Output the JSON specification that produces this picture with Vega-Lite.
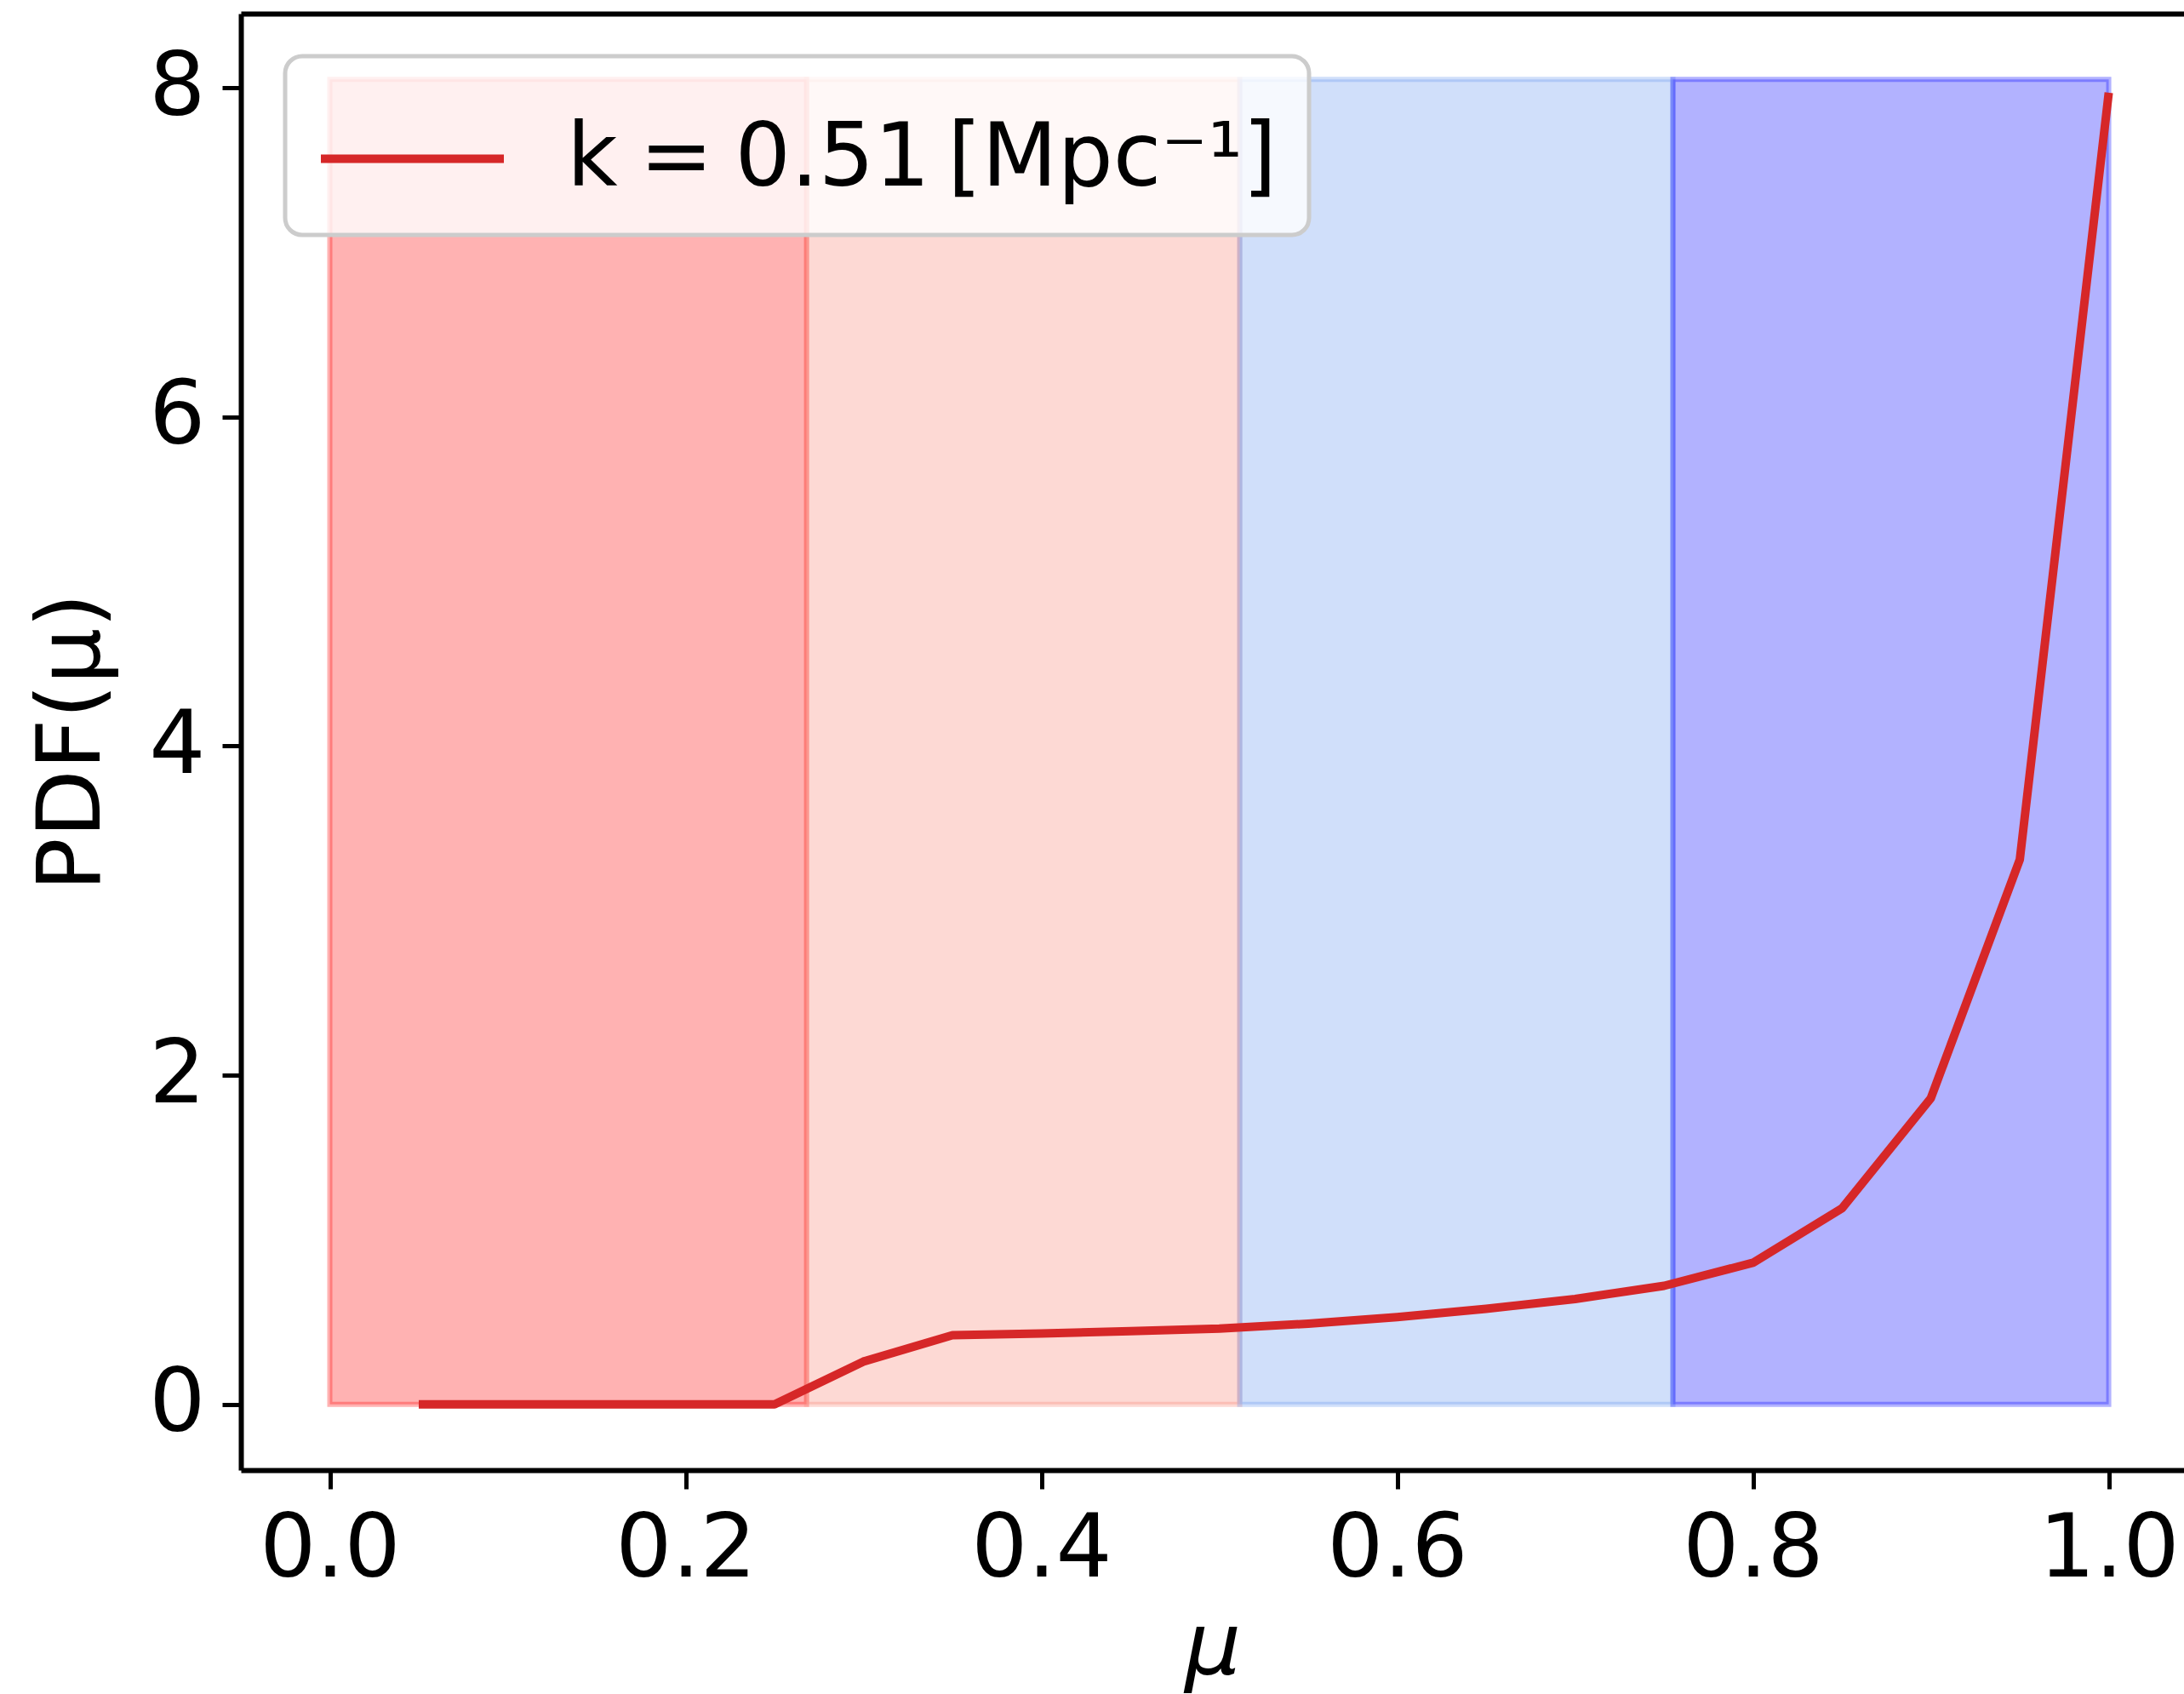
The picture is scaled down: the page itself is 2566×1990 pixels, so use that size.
{
  "$schema": "https://vega.github.io/schema/vega-lite/v6.json",
  "width": 2283,
  "height": 1711,
  "autosize": {"type": "none"},
  "padding": {"left": 283, "top": 16, "right": 0, "bottom": 263},
  "background": "white",
  "config": {
    "view": {"stroke": null},
    "font": "DejaVu Sans",
    "axis": {
      "domainColor": "black",
      "domainWidth": 6,
      "tickColor": "black",
      "tickWidth": 5,
      "tickSize": 22,
      "labelFont": "DejaVu Sans",
      "labelFontSize": 104,
      "labelColor": "black",
      "labelPadding": 20,
      "labelFlush": false,
      "labelOverlap": false,
      "grid": false,
      "titleFont": "DejaVu Sans",
      "titleFontSize": 104,
      "titleFontWeight": "normal",
      "titleColor": "black"
    }
  },
  "datasets": {
    "bands": [
      {"band": "Q1", "start": 0.0, "end": 0.268, "lo": 0, "hi": 8.05},
      {"band": "Q2", "start": 0.268, "end": 0.5115, "lo": 0, "hi": 8.05},
      {"band": "Q3", "start": 0.5115, "end": 0.755, "lo": 0, "hi": 8.05},
      {"band": "Q4", "start": 0.755, "end": 1.0, "lo": 0, "hi": 8.05}
    ],
    "pdf": [
      {"mu": 0.05, "pdf": 0.0},
      {"mu": 0.10, "pdf": 0.0},
      {"mu": 0.15, "pdf": 0.0},
      {"mu": 0.20, "pdf": 0.0},
      {"mu": 0.25, "pdf": 0.0},
      {"mu": 0.30, "pdf": 0.26},
      {"mu": 0.35, "pdf": 0.42},
      {"mu": 0.40, "pdf": 0.43},
      {"mu": 0.45, "pdf": 0.445},
      {"mu": 0.50, "pdf": 0.46},
      {"mu": 0.55, "pdf": 0.49},
      {"mu": 0.60, "pdf": 0.53},
      {"mu": 0.65, "pdf": 0.58},
      {"mu": 0.70, "pdf": 0.64},
      {"mu": 0.75, "pdf": 0.72},
      {"mu": 0.80, "pdf": 0.86},
      {"mu": 0.85, "pdf": 1.19},
      {"mu": 0.90, "pdf": 1.86},
      {"mu": 0.95, "pdf": 3.31},
      {"mu": 1.00, "pdf": 7.97}
    ]
  },
  "layer": [
    {
      "data": {"name": "bands"},
      "mark": {"type": "rect", "fillOpacity": 0.3, "strokeOpacity": 0.3, "strokeWidth": 6},
      "encoding": {
        "x": {
          "field": "start", "type": "quantitative",
          "scale": {"domain": [-0.05, 1.0423], "nice": false, "zero": false},
          "axis": {
            "orient": "bottom",
            "values": [0, 0.2, 0.4, 0.6, 0.8, 1.0],
            "format": ".1f",
            "title": "μ",
            "titleFontStyle": "italic",
            "titlePadding": 12
          }
        },
        "x2": {"field": "end"},
        "y": {
          "field": "lo", "type": "quantitative",
          "scale": {"domain": [-0.4, 8.45], "nice": false, "zero": false},
          "axis": {
            "orient": "left",
            "values": [0, 2, 4, 6, 8],
            "title": "PDF(μ)",
            "titlePadding": 36
          }
        },
        "y2": {"field": "hi"},
        "fill": {
          "field": "band", "type": "nominal",
          "scale": {"domain": ["Q1", "Q2", "Q3", "Q4"], "range": ["red", "salmon", "cornflowerblue", "blue"]},
          "legend": null
        },
        "stroke": {
          "field": "band", "type": "nominal",
          "scale": {"domain": ["Q1", "Q2", "Q3", "Q4"], "range": ["red", "salmon", "cornflowerblue", "blue"]},
          "legend": null
        }
      }
    },
    {
      "data": {"name": "pdf"},
      "mark": {"type": "line", "strokeWidth": 10, "strokeJoin": "round", "strokeCap": "butt"},
      "encoding": {
        "x": {
          "field": "mu", "type": "quantitative",
          "axis": {"orient": "top", "labels": false, "ticks": false, "title": null, "domain": true}
        },
        "y": {
          "field": "pdf", "type": "quantitative",
          "axis": {
            "orient": "left",
            "values": [0, 2, 4, 6, 8],
            "title": "PDF(μ)",
            "titlePadding": 36
          }
        },
        "color": {
          "datum": "k\u2005=\u20050.51\u2009[Mpc\u207b\u00b9]",
          "type": "nominal",
          "scale": {"range": ["#d62728"]},
          "legend": {
            "orient": "none",
            "legendX": 52,
            "legendY": 50,
            "title": null,
            "padding": 37,
            "fillColor": "rgba(255,255,255,0.8)",
            "strokeColor": "#cccccc",
            "cornerRadius": 20,
            "labelFont": "DejaVu Sans",
            "labelFontSize": 103,
            "labelColor": "black",
            "labelLimit": 3000,
            "labelOffset": 127,
            "symbolType": "M-1,0H1.739",
            "symbolSize": 24649,
            "symbolStrokeWidth": 10,
            "encode": {"legend": {"update": {"strokeWidth": {"value": 5}}}}
          }
        }
      }
    }
  ]
}
